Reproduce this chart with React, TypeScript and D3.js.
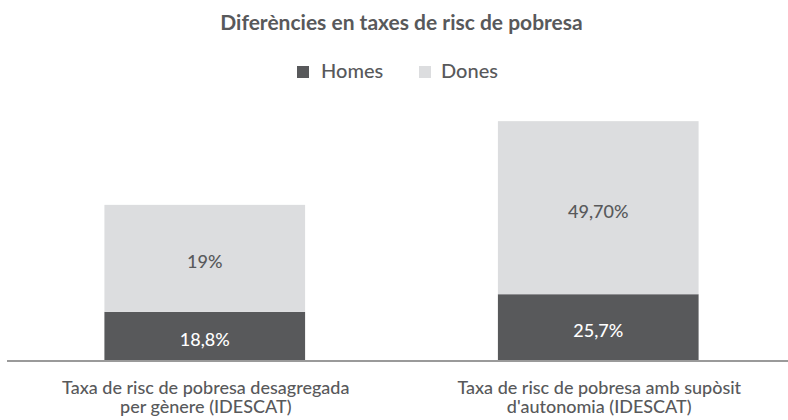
import React from 'react';
import * as d3 from 'd3';

const title = 'Diferències en taxes de risc de pobresa';
const seriesNames = ['Homes', 'Dones'];
const seriesColors = ['#58595b', '#dcdddf'];
const labelColors = ['#ffffff', '#58595b'];

const categories = ['genere', 'autonomia'];
const categoryLines = [
  ['Taxa de risc de pobresa desagregada', 'per gènere (IDESCAT)'],
  ['Taxa de risc de pobresa amb supòsit', "d'autonomia (IDESCAT)"],
];

// segment sizes as drawn in the source chart
const homesValues = [18.8, 25.7];
const donesValues = [41.8, 67.6];
// printed labels (the source prints these, not the segment sizes)
const homesLabels = ['18,8%', '25,7%'];
const donesLabels = ['19%', '49,70%'];

const W = 788;
const H = 420;
const FONT = 'Lato, "Open Sans", sans-serif';
const TEXT = '#58595b';

const App: React.FC = () => {
  const rows = categories.map((c, i) => ({ cat: c, Homes: homesValues[i], Dones: donesValues[i] }));
  const stacked = d3.stack<any>().keys(seriesNames)(rows);
  const labels = [homesLabels, donesLabels];

  const x = d3.scaleBand<string>().domain(categories).range([8, 795]).paddingInner(0.49).paddingOuter(0.245);
  const y = d3.scaleLinear().domain([0, 100]).range([360, 104]);

  const legendItems = [
    { name: seriesNames[0], sx: 297, tx: 321 },
    { name: seriesNames[1], sx: 419, tx: 441 },
  ];

  return (
    <svg width={W} height={H} style={{ position: 'absolute', left: 0, top: 0, background: '#fff' }} fontFamily={FONT}>
      <text x={401.5} y={30} textAnchor="middle" fontSize={21} fontWeight="bold" fill={TEXT}>
        {title}
      </text>

      {legendItems.map((l, i) => (
        <g key={l.name}>
          <rect x={l.sx} y={66} width={12} height={12} fill={seriesColors[i]} />
          <text x={l.tx} y={78} fontSize={20} fontWeight={500} fill={TEXT}>
            {l.name}
          </text>
        </g>
      ))}

      {stacked.map((layer, si) => (
        <g key={layer.key} fill={seriesColors[si]}>
          {layer.map((d, i) => {
            const x0 = x(categories[i]) as number;
            const top = y(d[1]);
            const bot = y(d[0]);
            return (
              <g key={i}>
                <rect x={x0} y={top} width={x.bandwidth()} height={bot - top} />
                <text
                  x={x0 + x.bandwidth() / 2}
                  y={(top + bot) / 2 + 10}
                  textAnchor="middle"
                  fontSize={18}
                  fontWeight={500}
                  fill={labelColors[si]}
                >
                  {labels[si][i]}
                </text>
              </g>
            );
          })}
        </g>
      ))}

      <line x1={7} x2={W} y1={361} y2={361} stroke="#9a9a9a" strokeWidth={2} />

      {categories.map((c, i) => (
        <text key={c} textAnchor="middle" fontSize={18} fontWeight={500} fill={TEXT}>
          {categoryLines[i].map((line, li) => (
            <tspan key={li} x={(x(c) as number) + x.bandwidth() / 2 + 1} y={394 + li * 19}>
              {line}
            </tspan>
          ))}
        </text>
      ))}
    </svg>
  );
};

export default App;
